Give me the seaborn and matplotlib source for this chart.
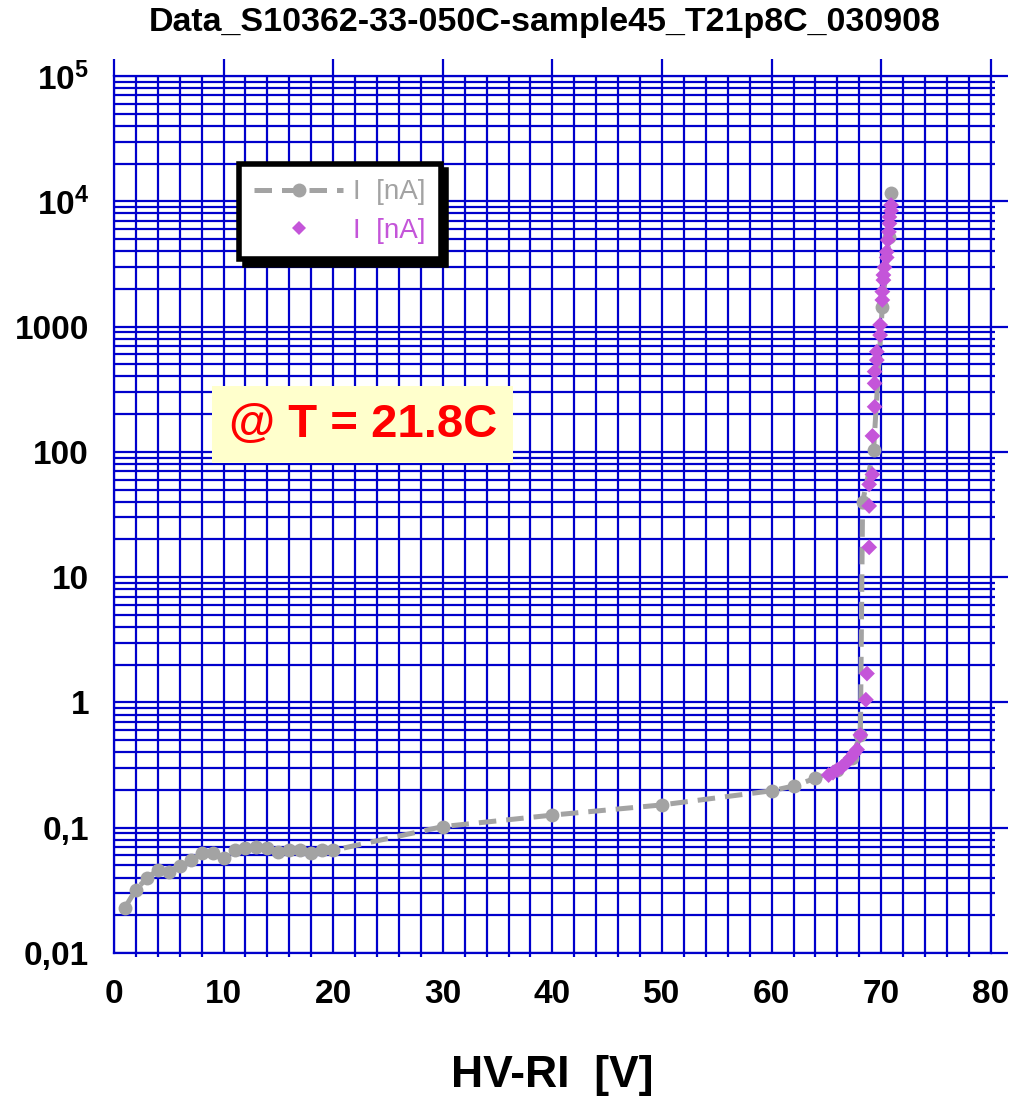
import numpy as np
import pandas as pd
import matplotlib
matplotlib.use("Agg")
import matplotlib.pyplot as plt
import seaborn as sns
from matplotlib.lines import Line2D
from matplotlib.ticker import FixedLocator, LogLocator, FixedFormatter

# gray curve: I [nA] vs HV-RI [V]
hv_gray = [1, 2, 3, 4, 5, 6, 7, 8, 9, 10, 11, 12, 13, 14, 15, 16, 17, 18, 19, 20,
           30, 40, 50, 60, 62, 64, 66, 67.3, 68.1, 68.3, 69.3, 70.1, 70.75, 70.9]
i_gray = [0.023, 0.032, 0.0395, 0.046, 0.0446, 0.049, 0.055, 0.0625, 0.0625, 0.057,
          0.066, 0.0685, 0.0705, 0.0685, 0.064, 0.066, 0.066, 0.0625, 0.066, 0.066,
          0.102, 0.126, 0.152, 0.197, 0.215, 0.248, 0.29, 0.36, 0.55, 40, 103, 1440, 5200, 11560]

# purple points: I [nA] near breakdown
hv_purple = [65.2, 65.6, 66.0, 66.4, 66.8, 67.2, 67.5, 67.8, 68.1, 68.6, 68.7, 68.9, 68.9, 68.9,
             69.2, 69.2, 69.4, 69.4, 69.4, 69.6, 69.6, 69.9, 69.9, 70.1, 70.1, 70.2, 70.2,
             70.3, 70.5, 70.5, 70.6, 70.7, 70.75, 70.75, 70.9, 70.9]
i_purple = [0.263, 0.275, 0.29, 0.305, 0.33, 0.36, 0.39, 0.42, 0.55, 1.05, 1.7, 17.3, 37, 55,
            66, 134, 229, 352, 437, 540, 630, 855, 1030, 1630, 1900, 2350, 2580,
            2970, 3560, 3950, 4900, 5700, 6650, 7500, 8400, 9330]

x_ticks = [0, 10, 20, 30, 40, 50, 60, 70, 80]
y_ticks = [0.01, 0.1, 1, 10, 100, 1000, 1e4, 1e5]
y_labels = ["0,01", "0,1", "1", "10", "100", "1000", r"$\mathbf{10^4}$", r"$\mathbf{10^5}$"]

gray = "#A3A3A3"
purple = "#C455D9"
blue = "#0000CC"

sns.set_style("white")
plt.rcParams["font.family"] = ["Liberation Sans", "DejaVu Sans"]
plt.rcParams["mathtext.fontset"] = "custom"
plt.rcParams["mathtext.rm"] = "Liberation Sans"
plt.rcParams["mathtext.bf"] = "Liberation Sans:bold"
plt.rcParams["text.color"] = "black"
plt.rcParams["axes.labelcolor"] = "black"
plt.rcParams["xtick.labelcolor"] = "black"
plt.rcParams["ytick.labelcolor"] = "black"

df_gray = pd.DataFrame({"hv": hv_gray, "i": i_gray})
df_purple = pd.DataFrame({"hv": hv_purple, "i": i_purple})

fig = plt.figure(figsize=(10.22, 11.05), dpi=100)
ax = fig.add_axes([0.1115, 0.1376, 0.858, 0.7936])

sns.lineplot(data=df_gray, x="hv", y="i", ax=ax, color=gray, lw=3.6,
             linestyle=(0, (3.5, 2)), marker="o", markersize=10, markeredgewidth=0, zorder=3)
sns.scatterplot(data=df_purple, x="hv", y="i", ax=ax, color=purple, marker="D",
                s=65, edgecolor="none", zorder=4)

ax.set_yscale("log")
ax.set_xlim(0, 80)
ax.set_ylim(0.01, 1e5)

ax.xaxis.set_major_locator(FixedLocator(x_ticks))
ax.xaxis.set_minor_locator(FixedLocator(np.arange(0, 81, 2)))
ax.yaxis.set_major_locator(FixedLocator(y_ticks))
ax.yaxis.set_major_formatter(FixedFormatter(y_labels))
ax.yaxis.set_minor_locator(LogLocator(base=10, subs=np.arange(2, 10), numticks=20))
ax.yaxis.set_minor_formatter(plt.NullFormatter())

ax.grid(True, which="both", color=blue, lw=1.6)
ax.set_axisbelow(True)
for s in ax.spines.values():
    s.set_color(blue)
    s.set_linewidth(1.6)

ax.tick_params(axis="x", which="major", direction="out", length=12, width=1.6, color=blue,
               top=True, labeltop=False, labelsize=24, pad=7)
ax.tick_params(axis="x", which="minor", direction="out", length=3, width=1.6, color=blue,
               top=False, bottom=True)
ax.tick_params(axis="y", which="major", direction="out", length=12, width=1.6, color=blue,
               right=True, labelright=False, labelsize=24, pad=6)
ax.tick_params(axis="y", which="minor", direction="out", length=3, width=1.6, color=blue,
               right=True, left=False)
for lab in ax.get_xticklabels() + ax.get_yticklabels():
    lab.set_fontweight("bold")

ax.set_xlabel("HV-RI  [V]", fontsize=32, fontweight="bold", labelpad=32)
ax.set_ylabel("")

fig.text(0.533, 1 - 22 / 1105, "Data_S10362-33-050C-sample45_T21p8C_030908",
         ha="center", va="center", fontsize=24.5, fontweight="bold")

ax.text(22.7, 164, "@ T = 21.8C", color="#FF0000", fontsize=34, fontweight="bold",
        ha="center", va="center", zorder=6,
        bbox=dict(boxstyle="square,pad=0.35", facecolor="#FFFFCC", edgecolor="none"))

handles = [Line2D([], [], color=gray, lw=3.6, linestyle=(0, (3.5, 2)), marker="o",
                  markersize=10, markeredgewidth=0),
           Line2D([], [], color=purple, linestyle="none", marker="D", markersize=7.5,
                  markeredgewidth=0)]
leg = ax.legend(handles, ["I  [nA]", "I  [nA]"], loc="upper left",
                bbox_to_anchor=(239 / 1022, 1 - 164 / 1105), bbox_transform=fig.transFigure,
                borderaxespad=0,
                fontsize=20, labelcolor=[gray, purple], handlelength=3.2, numpoints=1,
                handletextpad=0.35, borderpad=0.55, labelspacing=0.45, fancybox=False,
                framealpha=1, shadow={"color": "black", "alpha": 1, "ox": 4, "oy": -4})
leg.get_frame().set_edgecolor("black")
leg.get_frame().set_linewidth(4)
leg.set_zorder(7)

fig.savefig("out.png", dpi=100)
